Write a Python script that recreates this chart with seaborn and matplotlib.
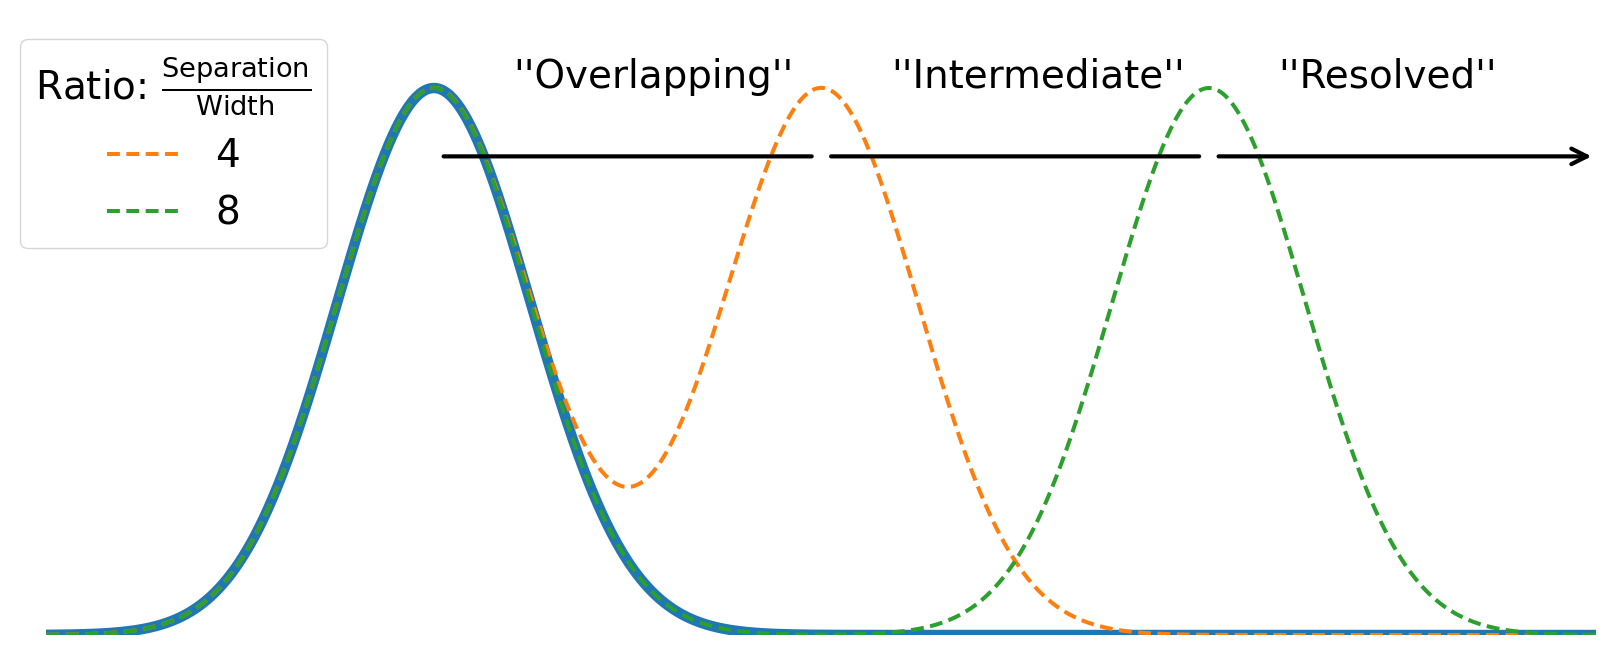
import numpy as np
import pandas as pd
import seaborn as sns
import matplotlib.pyplot as plt

# peak setup (width = sigma of each peak)
width = 1.0
first_center = 0.0
ratios = [4, 8]
x_range = [-4, 12]
ratio_colors = ['#ff7f0e', '#2ca02c']

regimes = ["''Overlapping''", "''Intermediate''", "''Resolved''"]
regime_x = [0.82, 4.72, 8.72]
arrow_segments = [(0.1, 3.9), (4.1, 7.9), (8.1, 11.95)]
arrow_y = 0.875


def gauss(x, mu, sig):
    return np.exp(-(x - mu) ** 2 / (2 * sig ** 2))


x = np.linspace(x_range[0], x_range[1], 2000)
single = pd.DataFrame({'x': x, 'y': gauss(x, first_center, width)})

fig = plt.figure(figsize=(16.17, 6.56), dpi=100)
# 1 y-unit = 547 px, baseline 635 px from top
ax = fig.add_axes([46.4 / 1617, 21 / 656, 1550 / 1617, 601.7 / 656])

sns.lineplot(data=single, x='x', y='y', color='#1f77b4', lw=7.5, ax=ax)
for r, c in zip(ratios, ratio_colors):
    pair = pd.DataFrame({'x': x, 'y': gauss(x, first_center, width) +
                         gauss(x, first_center + r * width, width)})
    sns.lineplot(data=pair, x='x', y='y', color=c, lw=2.9, ls='--',
                 dashes=False, label=str(r), ax=ax)
for line in ax.get_lines()[1:]:
    line.set_dashes((3.2, 1.6))

for i, (x0, x1) in enumerate(arrow_segments):
    style = '->' if i == len(arrow_segments) - 1 else '-'
    ax.annotate('', xy=(x1, arrow_y), xytext=(x0, arrow_y),
                arrowprops=dict(arrowstyle=style, lw=3, color='black',
                                mutation_scale=28, shrinkA=0, shrinkB=0))

for name, xp in zip(regimes, regime_x):
    ax.text(xp, 1.0, name, fontsize=28, ha='left', va='baseline')

ax.set_xlim(x_range)
ax.set_ylim(0, 1.1)
ax.axis('off')

leg = ax.legend(title=r'Ratio: $\frac{\mathregular{Separation}}{\mathregular{Width}}$',
                loc='upper left', bbox_to_anchor=(-46 / 1550, 1.0 + 13.5 / 601.7),
                fontsize=28, title_fontsize=28)

fig.savefig('out.png', dpi=100)
